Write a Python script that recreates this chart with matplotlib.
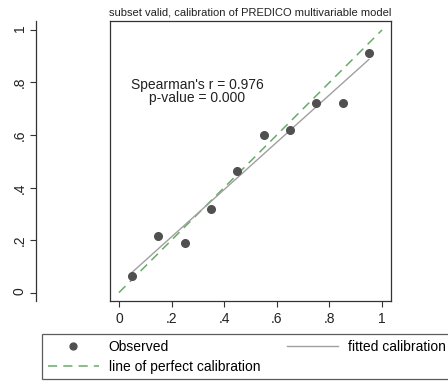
import numpy as np
import matplotlib
matplotlib.use("Agg")
import matplotlib.pyplot as plt

plt.rcParams["font.family"] = ["Liberation Sans", "DejaVu Sans"]

# observed risk per decile of predicted risk
predicted = [0.05, 0.15, 0.25, 0.35, 0.45, 0.55, 0.65, 0.75, 0.85, 0.95]
observed = [0.065, 0.216, 0.190, 0.317, 0.463, 0.600, 0.619, 0.721, 0.721, 0.912]
ticks = [0, 0.2, 0.4, 0.6, 0.8, 1.0]
tick_labels = ["0", ".2", ".4", ".6", ".8", "1"]
perfect = [0, 1]

title = "subset valid, calibration of PREDICO multivariable model"
stats_text = "Spearman's r = 0.976\np-value = 0.000"

fig = plt.figure(figsize=(4.48, 3.83), dpi=100)
ax = fig.add_axes([110 / 448, 82 / 383, 281 / 448, 280 / 383])

# fitted calibration line (OLS of observed on predicted)
slope, intercept = np.polyfit(predicted, observed, 1)
xs = np.array([min(predicted), max(predicted)])

h_obs, = ax.plot(predicted, observed, "o", color="#505050", markersize=5.5,
                 zorder=4, label="Observed")
h_fit, = ax.plot(xs, intercept + slope * xs, "-", color="#a0a0a0",
                 linewidth=1.0, zorder=3, label="fitted calibration")
h_perf, = ax.plot(perfect, perfect, "--", color="#6aaa6a", linewidth=1.1,
                  dashes=(6, 4), zorder=2, label="line of perfect calibration")

ax.text(0.297, 0.765, stats_text, ha="center", va="center", fontsize=10,
        linespacing=0.95, color="#222222")

ax.set_xlim(-0.034, 1.034)
ax.set_ylim(-0.032, 1.034)
ax.set_xticks(ticks)
ax.set_xticklabels(tick_labels)
ax.set_yticks(ticks)
ax.set_yticklabels(tick_labels)
ax.tick_params(axis="both", labelsize=10, length=4, width=0.8,
               color="#333333", labelcolor="#222222")
ax.tick_params(axis="x", pad=4)
ax.tick_params(axis="y", pad=3, labelrotation=90)
for lab in ax.get_yticklabels():
    lab.set_va("center")

# y axis sits apart from the plot box
ax.spines["left"].set_position(("outward", 53))
for s in ax.spines.values():
    s.set_color("#333333")
    s.set_linewidth(0.9)
ax.plot([0, 0], [0, 1], transform=ax.transAxes, color="#333333",
        linewidth=0.9, clip_on=False)

ax.set_title(title, fontsize=8, pad=4, color="#222222")

leg = fig.legend(handles=[h_obs, h_perf, h_fit], ncol=2,
                 loc="upper left", bbox_to_anchor=(42 / 448, 49 / 383),
                 borderaxespad=0, fontsize=10, frameon=True, fancybox=False,
                 handlelength=3.7, handletextpad=0.7, columnspacing=1.9,
                 labelspacing=0.45, borderpad=0.4, markerscale=0.9)
leg.get_frame().set_edgecolor("#333333")
leg.get_frame().set_linewidth(0.9)

fig.savefig("out.png", dpi=100)
